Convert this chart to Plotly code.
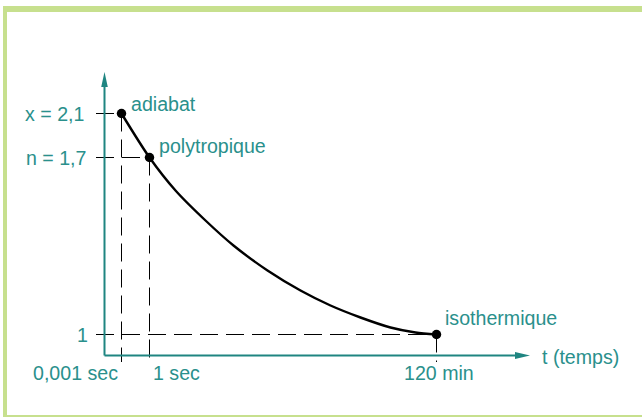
import plotly.graph_objects as go

# Schematic positions (chart units) of the three states
state_names = ["adiabat", "polytropique", "isothermique"]
t_pos = [17, 45, 332]          # position along the t (temps) axis
k_pos = [242, 198, 21]         # position along the vertical axis (exponent)
t_labels = ["0,001 sec", "1 sec", "120 min"]
k_labels = ["x = 2,1", "n = 1,7", "1"]

# Curve (schematic units)
curve_t = [17, 45, 71, 101, 129, 163, 196, 226, 256, 286, 311, 332]
curve_k = [242, 198, 165, 135, 110, 85, 65, 50, 38, 28, 23, 21]

x_min, x_max = -8.5, 425.5
y_min, y_max = -6.5, 283.5

TEAL = "#1f8581"
TEXT = "#2a908c"
GREEN = "#c7e08e"
FONT = "Liberation Sans, Arial, sans-serif"
FS = 19.6
DASH = "18px,8px"

fig = go.Figure()

# dashed guide lines
for t, k in zip(t_pos, k_pos):
    fig.add_trace(go.Scatter(x=[x_min, t], y=[k, k], mode="lines",
                             line=dict(color="black", width=1, dash=DASH),
                             hoverinfo="skip", showlegend=False))
    fig.add_trace(go.Scatter(x=[t, t], y=[k, y_min], mode="lines",
                             line=dict(color="black", width=1, dash=DASH),
                             hoverinfo="skip", showlegend=False))

# curve
fig.add_trace(go.Scatter(x=curve_t, y=curve_k, mode="lines",
                         line=dict(color="black", width=2.4, shape="spline", smoothing=0.8),
                         hoverinfo="skip", showlegend=False))
# state points
fig.add_trace(go.Scatter(x=t_pos, y=k_pos, mode="markers",
                         marker=dict(color="black", size=9.5),
                         hoverinfo="skip", showlegend=False))

shapes = []
# axes lines
shapes.append(dict(type="line", xref="x", yref="y", x0=0, y0=0, x1=x_max - 10, y1=0,
                   line=dict(color=TEAL, width=2)))
shapes.append(dict(type="line", xref="x", yref="y", x0=0, y0=0, x1=0, y1=y_max - 10,
                   line=dict(color=TEAL, width=2)))
# arrow heads (pixel-sized, anchored at axis ends)
shapes.append(dict(type="path", xref="x", yref="y", xsizemode="pixel", ysizemode="pixel",
                   xanchor=x_max, yanchor=0, path="M0,0 L-15,3.5 L-15,-3.5 Z",
                   fillcolor=TEAL, line=dict(color=TEAL, width=0)))
shapes.append(dict(type="path", xref="x", yref="y", xsizemode="pixel", ysizemode="pixel",
                   xanchor=0, yanchor=y_max, path="M0,0 L-3.3,-15 L3.3,-15 Z",
                   fillcolor=TEAL, line=dict(color=TEAL, width=0)))
# green frame (left bar, top bar, bottom line)
shapes.append(dict(type="rect", xref="paper", yref="paper", xsizemode="pixel", ysizemode="pixel",
                   xanchor=0, yanchor=1, x0=-96 + 3, x1=-96 + 7, y0=72 - 6, y1=72 - 420,
                   fillcolor=GREEN, line=dict(width=0), layer="below"))
shapes.append(dict(type="rect", xref="paper", yref="paper", xsizemode="pixel", ysizemode="pixel",
                   xanchor=0, yanchor=1, x0=-96 + 3, x1=-96 + 700, y0=72 - 6, y1=72 - 12,
                   fillcolor=GREEN, line=dict(width=0), layer="below"))
shapes.append(dict(type="rect", xref="paper", yref="paper", xsizemode="pixel", ysizemode="pixel",
                   xanchor=0, yanchor=0, x0=-96 + 3, x1=-96 + 700, y0=-55 + 2, y1=-55 - 2,
                   fillcolor=GREEN, line=dict(width=0), layer="below"))

annotations = []
# y tick labels
y_lab_shift = [-10, -8, -6]
for k, lab, sh in zip(k_pos, k_labels, y_lab_shift):
    annotations.append(dict(x=0, y=k, xref="paper", yref="y", text=lab, showarrow=False,
                            xanchor="right", yanchor="middle", xshift=sh,
                            font=dict(family=FONT, size=FS, color=TEXT)))
# x tick labels
x_anchors = ["right", "left", "center"]
x_shift = [-2, 1, 2]
for t, lab, an, sh in zip(t_pos, t_labels, x_anchors, x_shift):
    annotations.append(dict(x=t, y=0, xref="x", yref="paper", text=lab, showarrow=False,
                            xanchor=an, yanchor="middle", xshift=sh, yshift=-11,
                            font=dict(family=FONT, size=FS, color=TEXT)))
# state labels
lab_dx = [7, 7, 6]
lab_dy = [10, 12, 17]
for t, k, name, dx, dy in zip(t_pos, k_pos, state_names, lab_dx, lab_dy):
    annotations.append(dict(x=t, y=k, xref="x", yref="y", text=name, showarrow=False,
                            xanchor="left", yanchor="middle", xshift=dx, yshift=dy,
                            font=dict(family=FONT, size=FS, color=TEXT)))
# axis title
annotations.append(dict(x=x_max, y=0, xref="x", yref="y", text="t (temps)", showarrow=False,
                        xanchor="left", yanchor="middle", xshift=10, yshift=-1,
                        font=dict(family=FONT, size=FS, color=TEXT)))

fig.update_layout(
    width=642, height=417,
    margin=dict(l=96, r=112, t=72, b=55),
    paper_bgcolor="white", plot_bgcolor="white",
    shapes=shapes, annotations=annotations,
    xaxis=dict(range=[x_min, x_max], visible=False, fixedrange=True),
    yaxis=dict(range=[y_min, y_max], visible=False, fixedrange=True),
    showlegend=False,
)

fig.write_html("out.html", config={"displayModeBar": False},
               post_script="document.body.style.margin='0';document.body.style.overflow='hidden';")
